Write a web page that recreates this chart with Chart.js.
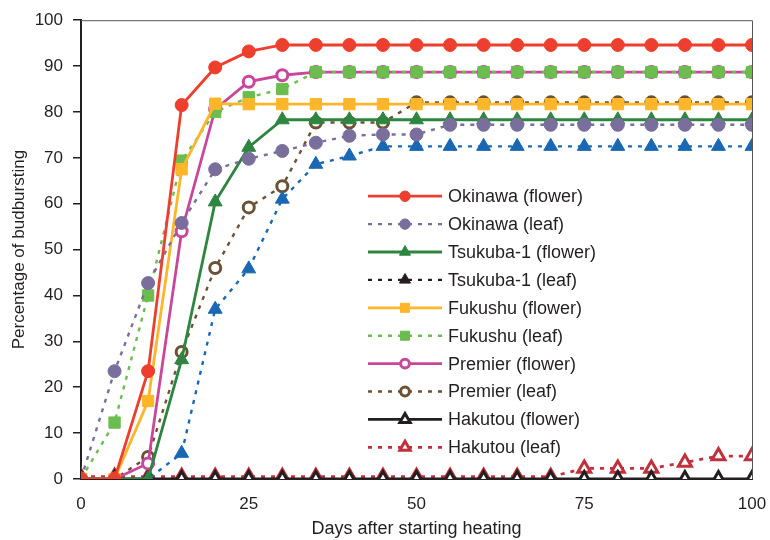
<!DOCTYPE html>
<html>
<head>
<meta charset="utf-8">
<script src="https://cdn.jsdelivr.net/npm/chart.js@4/dist/chart.umd.min.js"></script>
<style>
  html, body { margin: 0; padding: 0; background: #fff; }
  #wrap { width: 770px; height: 540px; }
</style>
</head>
<body>
<div id="wrap"><canvas id="budChart" width="770" height="540"></canvas></div>
<script>
// days after starting heating
const days = [0, 5, 10, 15, 20, 25, 30, 35, 40, 45, 50, 55, 60, 65, 70, 75, 80, 85, 90, 95, 100];

// percentage of budbursting, one array per series
const okinawaFlower = [0, 0, 23.5, 81.5, 89.7, 93.2, 94.6, 94.6, 94.6, 94.6, 94.6, 94.6, 94.6, 94.6, 94.6, 94.6, 94.6, 94.6, 94.6, 94.6, 94.6];
const okinawaLeaf   = [0, 23.5, 42.7, 55.8, 67.5, 69.8, 71.5, 73.3, 74.8, 75.1, 75.1, 77.2, 77.2, 77.2, 77.2, 77.2, 77.2, 77.2, 77.2, 77.2, 77.2];
const tsukubaFlower = [0, 0, 0, 26, 60.4, 72.3, 78.3, 78.3, 78.3, 78.3, 78.3, 78.3, 78.3, 78.3, 78.3, 78.3, 78.3, 78.3, 78.3, 78.3, 78.3];
const tsukubaLeaf   = [0, 0, 0, 5.6, 37, 45.8, 61, 68.6, 70.4, 72.5, 72.5, 72.5, 72.5, 72.5, 72.5, 72.5, 72.5, 72.5, 72.5, 72.5, 72.5];
const fukushuFlower = [0, 0, 17, 67.5, 81.8, 81.7, 81.7, 81.7, 81.7, 81.7, 81.7, 81.7, 81.7, 81.7, 81.7, 81.7, 81.7, 81.7, 81.7, 81.7, 81.7];
const fukushuLeaf   = [0, 12.3, 40, 69.4, 80, 83.2, 85, 88.7, 88.7, 88.7, 88.7, 88.7, 88.7, 88.7, 88.7, 88.7, 88.7, 88.7, 88.7, 88.7, 88.7];
const premierFlower = [0, 0, 3.4, 54, 80.6, 86.6, 88, 88.7, 88.7, 88.7, 88.7, 88.7, 88.7, 88.7, 88.7, 88.7, 88.7, 88.7, 88.7, 88.7, 88.7];
const premierLeaf   = [0, 0, 4.8, 27.7, 46, 59.2, 63.8, 77.7, 77.7, 77.7, 82.1, 82.1, 82.1, 82.1, 82.1, 82.1, 82.1, 82.1, 82.1, 82.1, 82.1];
const hakutouFlower = [0, 0, 0, 0, 0, 0, 0, 0, 0, 0, 0, 0, 0, 0, 0, 0, 0, 0, 0, 0, 0];
const hakutouLeaf   = [0.5, 0.5, 0.5, 0.5, 0.5, 0.5, 0.5, 0.5, 0.5, 0.5, 0.5, 0.5, 0.5, 0.5, 0.5, 2.3, 2.3, 2.3, 3.6, 5, 5];

const xTicks = [0, 25, 50, 75, 100];
const yTicks = [0, 10, 20, 30, 40, 50, 60, 70, 80, 90, 100];

const INK = '#231f20';
const FONT = '"Liberation Sans", Arial, Helvetica, sans-serif';

function series(label, values, color, opts) {
    return Object.assign({
        label: label,
        data: values.map((v, i) => ({ x: days[i], y: v })),
        borderColor: color,
        backgroundColor: color,
        pointBackgroundColor: color,
        pointBorderColor: color,
        borderWidth: 2.8,
        pointBorderWidth: 1,
        pointRadius: 6.5,
        pointHoverRadius: 6.5,
        tension: 0
    }, opts);
}

const dotted = { borderDash: [4, 6], borderWidth: 2.4 };

const datasets = [
    series('Okinawa (flower)', okinawaFlower, '#ee3e2d', { pointStyle: 'circle' }),
    series('Okinawa (leaf)', okinawaLeaf, '#7a6e9d', Object.assign({ pointStyle: 'circle' }, dotted)),
    series('Tsukuba-1 (flower)', tsukubaFlower, '#2e8540', { pointStyle: 'triangle', pointRadius: 8 }),
    series('Tsukuba-1 (leaf)', tsukubaLeaf, '#1a68b3', Object.assign({ pointStyle: 'triangle', pointRadius: 8, legendColor: INK }, dotted)),
    series('Fukushu (flower)', fukushuFlower, '#fdb62a', { pointStyle: 'rect', pointRadius: 8 }),
    series('Fukushu (leaf)', fukushuLeaf, '#6cbd4f', Object.assign({ pointStyle: 'rect', pointRadius: 8 }, dotted)),
    series('Premier (flower)', premierFlower, '#c8479b', { pointStyle: 'circle', pointRadius: 5.5, pointBorderWidth: 3, pointBackgroundColor: '#ffffff' }),
    series('Premier (leaf)', premierLeaf, '#6b5233', Object.assign({ pointStyle: 'circle', pointRadius: 5.5, pointBackgroundColor: '#ffffff' }, dotted, { pointBorderWidth: 3 })),
    series('Hakutou (flower)', hakutouFlower, INK, { pointStyle: 'triangle', pointRadius: 7.5, pointBorderWidth: 3, pointBackgroundColor: '#ffffff' }),
    series('Hakutou (leaf)', hakutouLeaf, '#c1313b', Object.assign({ pointStyle: 'triangle', pointRadius: 7.5, pointBackgroundColor: '#ffffff' }, dotted, { pointBorderWidth: 3, borderWidth: 2.8 }))
];

// legend drawn inside the plot, as in the figure
const insideLegend = {
    id: 'insideLegend',
    afterDraw(chart) {
        const ctx = chart.ctx;
        const a = chart.chartArea;
        const x0 = a.left + 287;
        const y0 = a.top + 176;
        const rowH = 27.9;
        ctx.save();
        chart.data.datasets.forEach((ds, i) => {
            const y = y0 + i * rowH;
            const col = ds.legendColor || ds.borderColor;
            ctx.strokeStyle = col;
            ctx.lineWidth = ds.borderWidth;
            ctx.setLineDash(ds.borderDash || []);
            ctx.beginPath();
            ctx.moveTo(x0, y);
            ctx.lineTo(x0 + 74, y);
            ctx.stroke();
            ctx.setLineDash([]);
            ctx.fillStyle = ds.legendColor || ds.pointBackgroundColor;
            ctx.strokeStyle = col;
            ctx.lineWidth = ds.pointBorderWidth;
            Chart.helpers.drawPoint(ctx, {
                pointStyle: ds.pointStyle,
                radius: ds.pointRadius * 0.8,
                borderWidth: ds.pointBorderWidth,
                rotation: 0
            }, x0 + 37, y);
            ctx.fillStyle = INK;
            ctx.font = '18px ' + FONT;
            ctx.textBaseline = 'middle';
            ctx.textAlign = 'left';
            ctx.fillText(ds.label, x0 + 80, y + 1);
        });
        ctx.restore();
    }
};

// thin frame on top and right
const frame = {
    id: 'frame',
    afterDatasetsDraw(chart) {
        const ctx = chart.ctx;
        const a = chart.chartArea;
        ctx.save();
        ctx.strokeStyle = '#555';
        ctx.lineWidth = 1;
        ctx.beginPath();
        ctx.moveTo(a.left, a.top + 0.5);
        ctx.lineTo(a.right + 0.5, a.top + 0.5);
        ctx.lineTo(a.right + 0.5, a.bottom);
        ctx.stroke();
        ctx.restore();
    }
};

Chart.defaults.font.family = FONT;
Chart.defaults.color = INK;

new Chart(document.getElementById('budChart'), {
    type: 'line',
    data: { datasets: datasets },
    plugins: [insideLegend, frame],
    options: {
        responsive: false,
        animation: false,
        layout: { padding: { top: 19, right: 18, left: 0, bottom: 0 } },
        plugins: {
            legend: { display: false },
            tooltip: { enabled: false }
        },
        scales: {
            x: {
                type: 'linear',
                min: 0,
                max: 100,
                afterBuildTicks: (scale) => { scale.ticks = xTicks.map(v => ({ value: v })); },
                afterFit: (scale) => {
                    scale.height = 61;
                    scale.paddingLeft = 0;
                    scale.paddingRight = 0;
                },
                ticks: { font: { size: 17 }, color: INK, padding: 15, maxRotation: 0 },
                grid: { display: false, drawTicks: false },
                border: { display: true, color: INK, width: 2 },
                title: { display: true, text: 'Days after starting heating', font: { size: 18 }, color: INK, padding: { top: 0, bottom: 0 } }
            },
            y: {
                min: 0,
                max: 100,
                afterBuildTicks: (scale) => { scale.ticks = yTicks.map(v => ({ value: v })); },
                afterFit: (scale) => { scale.width = 81; },
                ticks: { font: { size: 17 }, color: INK, padding: 10 },
                grid: { display: true, drawOnChartArea: false, drawTicks: true, tickLength: 8, color: INK, lineWidth: 1.5 },
                border: { display: true, color: INK, width: 2 },
                title: { display: true, text: 'Percentage of budbursting', font: { size: 17 }, color: INK, padding: { top: 9, bottom: 0 } }
            }
        }
    }
});
</script>
</body>
</html>
